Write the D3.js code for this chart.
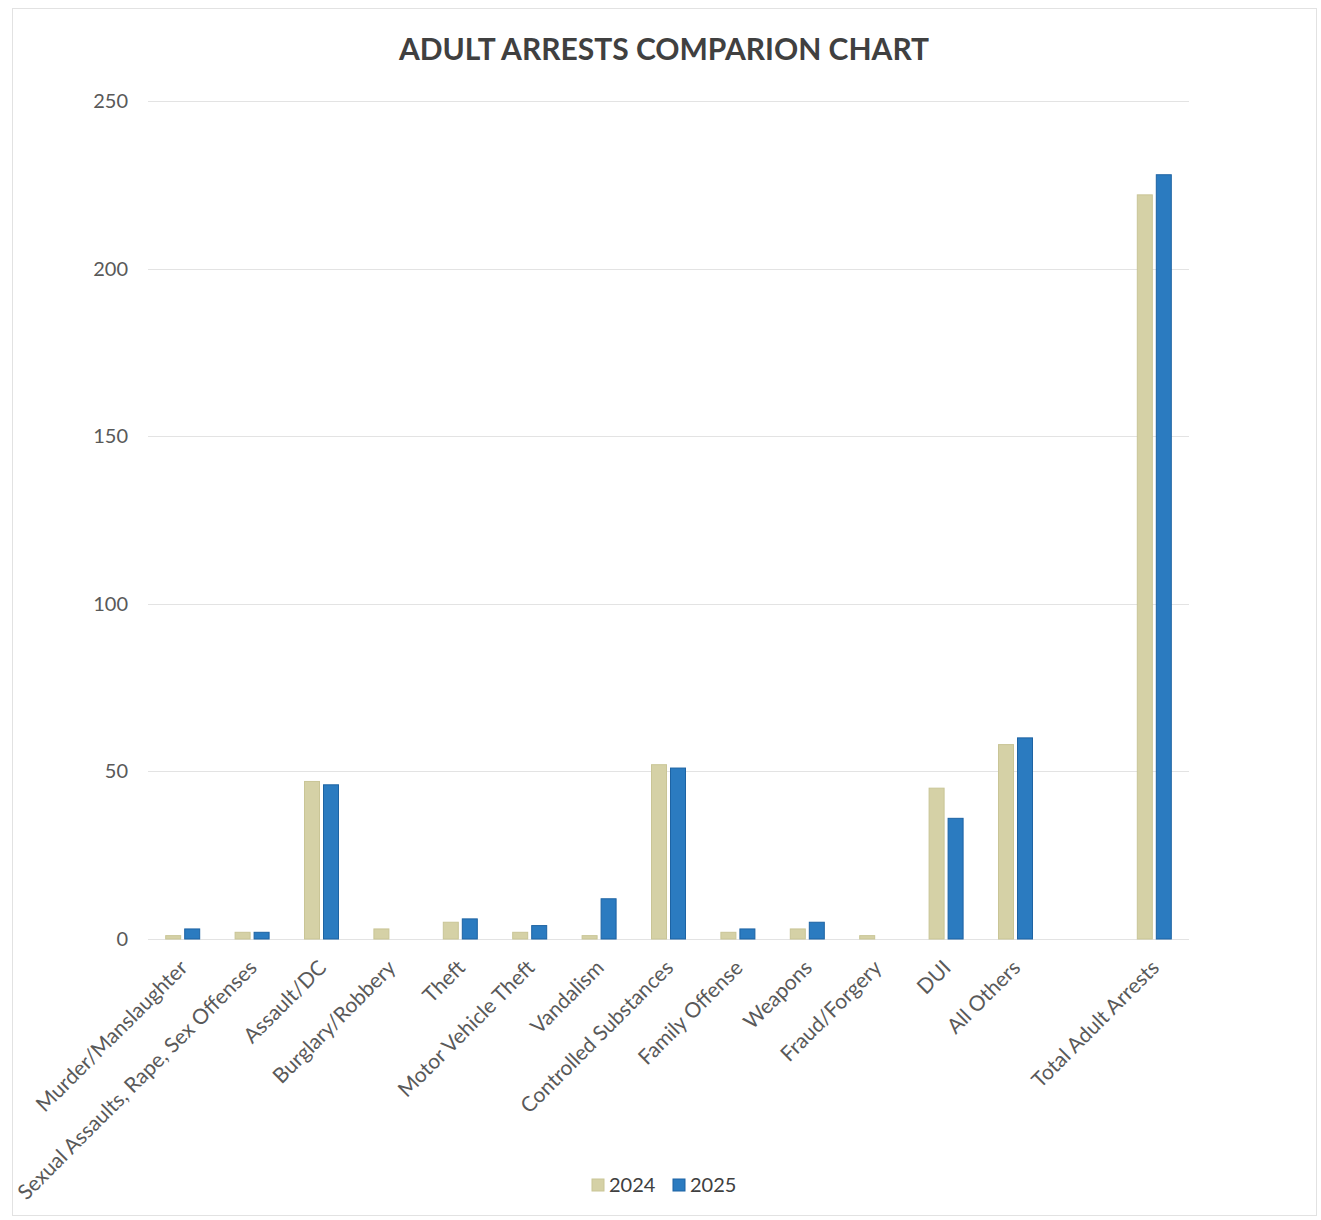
<!DOCTYPE html>
<html>
<head>
<meta charset="utf-8">
<script src="https://cdn.jsdelivr.net/npm/d3@7"></script>
<style>
  html, body { margin: 0; padding: 0; background: #fff; }
  svg { display: block; }
</style>
</head>
<body>
<svg id="chart" width="1321" height="1220"></svg>
<script>
// Arrest categories (blank slot separates the total from the offenses)
const categories = [
  "Murder/Manslaughter",
  "Sexual Assaults, Rape, Sex Offenses",
  "Assault/DC",
  "Burglary/Robbery",
  "Theft",
  "Motor Vehicle Theft",
  "Vandalism",
  "Controlled Substances",
  "Family Offense",
  "Weapons",
  "Fraud/Forgery",
  "DUI",
  "All Others",
  "",
  "Total Adult Arrests"
];
const arrests2024 = [1, 2, 47, 3, 5, 2, 1, 52, 2, 3, 1, 45, 58, null, 222];
const arrests2025 = [3, 2, 46, 0, 6, 4, 12, 51, 3, 5, 0, 36, 60, null, 228];
const seriesNames = ["2024", "2025"];
const yTicks = [0, 50, 100, 150, 200, 250];

const colors = { "2024": "#d5d1a6", "2025": "#2b7bc0" };
const strokes = { "2024": "#c9c596", "2025": "#1d63a3" };

const svg = d3.select("#chart");
const W = 1321, H = 1220;
const margin = { left: 148, right: 132, top: 101, bottom: 281 };

// chart frame
svg.append("rect")
  .attr("x", 12.5).attr("y", 8.5)
  .attr("width", 1304).attr("height", 1207)
  .attr("fill", "#fff").attr("stroke", "#e2e2e2").attr("stroke-width", 1);

const x = d3.scaleBand()
  .domain(d3.range(categories.length))
  .range([margin.left, W - margin.right])
  .paddingInner(0).paddingOuter(0);

const y = d3.scaleLinear()
  .domain([0, 250])
  .range([H - margin.bottom, margin.top]);

const barW = 15, barGap = 4;

// gridlines
svg.append("g")
  .selectAll("line")
  .data(yTicks)
  .join("line")
  .attr("x1", margin.left).attr("x2", W - margin.right)
  .attr("y1", d => Math.round(y(d)) + 0.5).attr("y2", d => Math.round(y(d)) + 0.5)
  .attr("stroke", "#e3e3e3").attr("stroke-width", 1.2);

// y axis labels
const yAxis = d3.axisLeft(y).tickValues(yTicks).tickSize(0).tickPadding(20);
const yg = svg.append("g")
  .attr("transform", `translate(${margin.left},0)`)
  .call(yAxis);
yg.select(".domain").remove();
yg.selectAll("text")
  .attr("font-family", "Lato, 'Open Sans', sans-serif")
  .attr("font-size", 20)
  .attr("fill", "#595959");

// bars
const series = [
  { name: "2024", values: arrests2024, offset: -(barW + barGap / 2) },
  { name: "2025", values: arrests2025, offset: barGap / 2 }
];
series.forEach(s => {
  svg.append("g")
    .selectAll("rect")
    .data(s.values.map((v, i) => ({ v, i })).filter(d => d.v !== null))
    .join("rect")
    .attr("x", d => x(d.i) + x.bandwidth() / 2 + s.offset)
    .attr("width", barW)
    .attr("y", d => y(d.v))
    .attr("height", d => y(0) - y(d.v))
    .attr("fill", colors[s.name])
    .attr("stroke", d => d.v > 0 ? strokes[s.name] : "none")
    .attr("stroke-width", 1);
});

// category labels, rotated
const xAxis = d3.axisBottom(x).tickSize(0).tickFormat(i => categories[i]);
const xg = svg.append("g")
  .attr("transform", `translate(0,${H - margin.bottom})`)
  .call(xAxis);
xg.select(".domain").remove();
xg.selectAll("text")
  .attr("font-family", "Lato, 'Open Sans', sans-serif")
  .attr("font-size", 21)
  .attr("fill", "#595959")
  .attr("text-anchor", "end")
  .attr("dy", 0)
  .attr("transform", "translate(4,28) rotate(-45)");

// title
svg.append("text")
  .attr("x", 664).attr("y", 60)
  .attr("text-anchor", "middle")
  .attr("font-family", "Lato, 'Open Sans', sans-serif")
  .attr("font-weight", 700)
  .attr("font-size", 30)
  .attr("fill", "#404040")
  .text("ADULT ARRESTS COMPARION CHART");

// legend
const legend = svg.append("g").attr("transform", "translate(592,1185)");
const legendX = [0, 81];
seriesNames.forEach((name, k) => {
  const g = legend.append("g").attr("transform", `translate(${legendX[k]},0)`);
  g.append("rect").attr("x", 0).attr("y", -6).attr("width", 12).attr("height", 12)
    .attr("fill", colors[name]).attr("stroke", strokes[name]);
  g.append("text").attr("x", 17).attr("y", 7)
    .attr("font-family", "Lato, 'Open Sans', sans-serif")
    .attr("font-size", 20)
    .attr("fill", "#404040")
    .text(name);
});
</script>
</body>
</html>
